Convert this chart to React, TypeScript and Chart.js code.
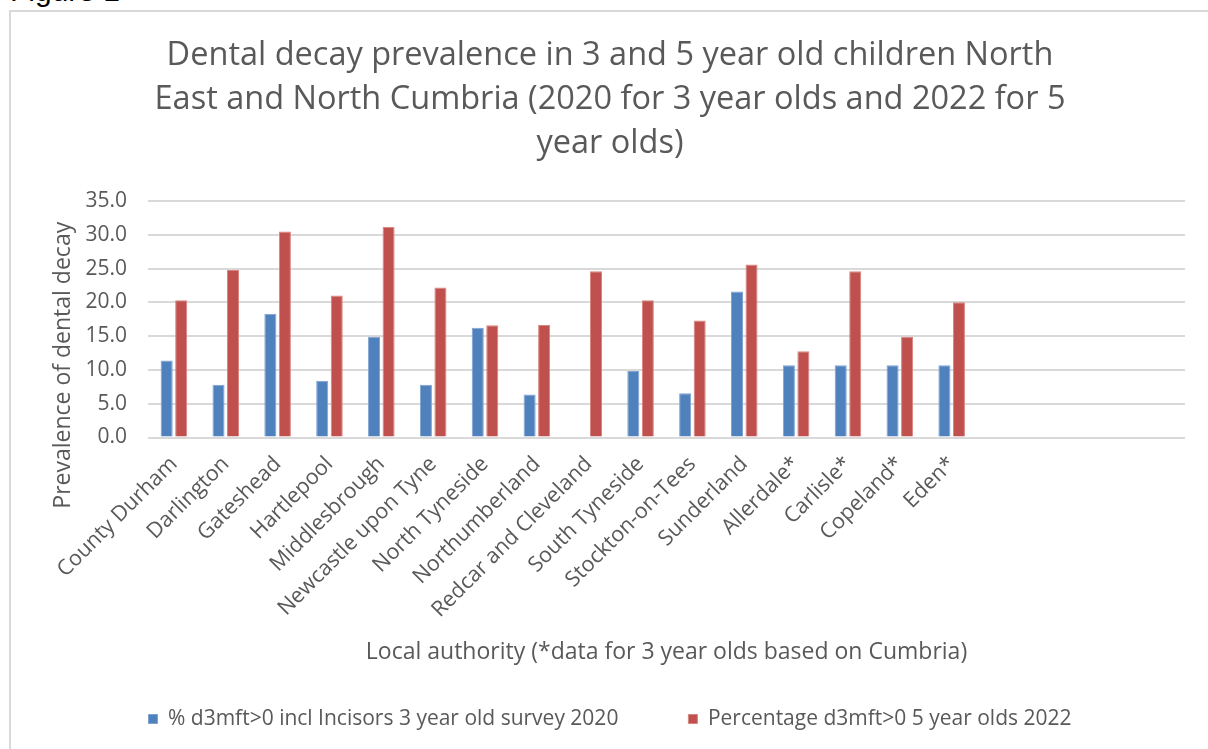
import React, { useEffect, useRef } from 'react';
import { Chart, registerables } from 'chart.js';

Chart.register(...registerables);

const FIGURE_LABEL = 'Figure 1';
const TITLE_LINES = [
  'Dental decay prevalence in 3 and 5 year old children North',
  'East and North Cumbria (2020 for 3 year olds and 2022 for 5',
  'year olds)',
];
const Y_AXIS_TITLE = 'Prevalence of dental decay';
const X_AXIS_TITLE = 'Local authority (*data for 3 year olds based on Cumbria)';

const CATEGORIES = [
  'County Durham',
  'Darlington',
  'Gateshead',
  'Hartlepool',
  'Middlesbrough',
  'Newcastle upon Tyne',
  'North Tyneside',
  'Northumberland',
  'Redcar and Cleveland',
  'South Tyneside',
  'Stockton-on-Tees',
  'Sunderland',
  'Allerdale*',
  'Carlisle*',
  'Copeland*',
  'Eden*',
  '',
  '',
  '',
  '',
];

const SERIES_3YO_LABEL = '% d3mft>0 incl Incisors 3 year old survey 2020';
const SERIES_3YO_2020 = [
  11.4, 7.8, 18.3, 8.4, 14.9, 7.8, 16.25, 6.35, null, 9.85, 6.55, 21.6, 10.7, 10.7, 10.7, 10.7,
  null, null, null, null,
];

const SERIES_5YO_LABEL = 'Percentage d3mft>0 5 year olds 2022';
const SERIES_5YO_2022 = [
  20.3, 24.8, 30.5, 21.0, 31.2, 22.2, 16.6, 16.65, 24.6, 20.3, 17.3, 25.6, 12.75, 24.6, 14.9, 20.0,
  null, null, null, null,
];

const Y_TICK_LABELS = ['0.0', '5.0', '10.0', '15.0', '20.0', '25.0', '30.0', '35.0'];

const TEXT = '#595959';
const GRID = '#d9d9d9';
const FONT = '"Open Sans", sans-serif';

const yTitlePlugin = {
  id: 'yTitle',
  afterDraw(chart: any) {
    const { ctx, chartArea } = chart;
    ctx.save();
    ctx.translate(chartArea.left - 85, (chartArea.top + chartArea.bottom) / 2 + 46);
    ctx.rotate(-Math.PI / 2);
    ctx.font = `23px ${FONT}`;
    ctx.fillStyle = TEXT;
    ctx.textAlign = 'center';
    ctx.textBaseline = 'middle';
    ctx.fillText(Y_AXIS_TITLE, 0, 0);
    ctx.restore();
  },
};

export default function App() {
  const ref = useRef<HTMLCanvasElement | null>(null);

  useEffect(() => {
    if (!ref.current) return;
    const chart = new Chart(ref.current, {
      type: 'bar',
      data: {
        labels: CATEGORIES,
        datasets: [
          {
            label: SERIES_3YO_LABEL,
            data: SERIES_3YO_2020,
            backgroundColor: '#4F81BD',
            borderColor: '#7FA2D2',
            borderWidth: 1,
            categoryPercentage: 0.56,
            barPercentage: 0.83,
          },
          {
            label: SERIES_5YO_LABEL,
            data: SERIES_5YO_2022,
            backgroundColor: '#C0504D',
            borderColor: '#D8837F',
            borderWidth: 1,
            categoryPercentage: 0.56,
            barPercentage: 0.83,
          },
        ],
      },
      options: {
        responsive: false,
        animation: false,
        devicePixelRatio: 1,
        layout: { padding: { left: 25, right: 23, top: 0, bottom: 9.5 } },
        plugins: {
          title: {
            display: true,
            text: TITLE_LINES,
            color: TEXT,
            font: { family: FONT, size: 32.5, weight: 'normal', lineHeight: 44 / 32.5 },
            padding: { top: 22, bottom: 35 },
          },
          legend: {
            position: 'bottom',
            labels: {
              color: TEXT,
              font: { family: FONT, size: 21 },
              boxWidth: 9,
              boxHeight: 9,
              padding: 70,
            },
          },
          tooltip: { enabled: false },
        },
        scales: {
          x: {
            grid: { display: false },
            border: { display: false },
            ticks: {
              color: TEXT,
              font: { family: FONT, size: 21.5 },
              minRotation: 45,
              maxRotation: 45,
              autoSkip: false,
              padding: 6,
            },
            title: {
              display: true,
              text: X_AXIS_TITLE,
              color: TEXT,
              font: { family: FONT, size: 23 },
              padding: { top: 0, bottom: -28 },
            },
            afterFit: (scale: any) => {
              scale.height = 201;
            },
          },
          y: {
            min: 0,
            max: 35,
            grid: { color: GRID, lineWidth: 2, drawTicks: false },
            border: { display: false },
            ticks: {
              stepSize: 5,
              color: TEXT,
              font: { family: FONT, size: 21 },
              padding: 21,
              callback: (_v: any, i: number) => Y_TICK_LABELS[i],
            },
            afterFit: (scale: any) => {
              scale.width = 113;
            },
          },
        },
      },
      plugins: [yTitlePlugin],
    } as any);
    return () => chart.destroy();
  }, []);

  return (
    <div
      style={{
        position: 'fixed',
        left: 0,
        top: 0,
        width: 1208,
        height: 749,
        overflow: 'hidden',
        background: '#fff',
      }}
    >
      <div
        style={{
          position: 'absolute',
          left: 10,
          top: -24,
          fontFamily: '"Liberation Sans", Arial, sans-serif',
          fontSize: 30,
          lineHeight: '30px',
          color: '#000',
          whiteSpace: 'nowrap',
        }}
      >
        {FIGURE_LABEL}
      </div>
      <div
        style={{
          position: 'absolute',
          left: 9,
          top: 10,
          width: 1400,
          height: 900,
          borderLeft: `2px solid ${GRID}`,
          borderTop: `2px solid ${GRID}`,
          background: '#fff',
        }}
      />
      <canvas
        ref={ref}
        width={1198}
        height={737}
        style={{ position: 'absolute', left: 10, top: 12, width: 1198, height: 737 }}
      />
    </div>
  );
}
